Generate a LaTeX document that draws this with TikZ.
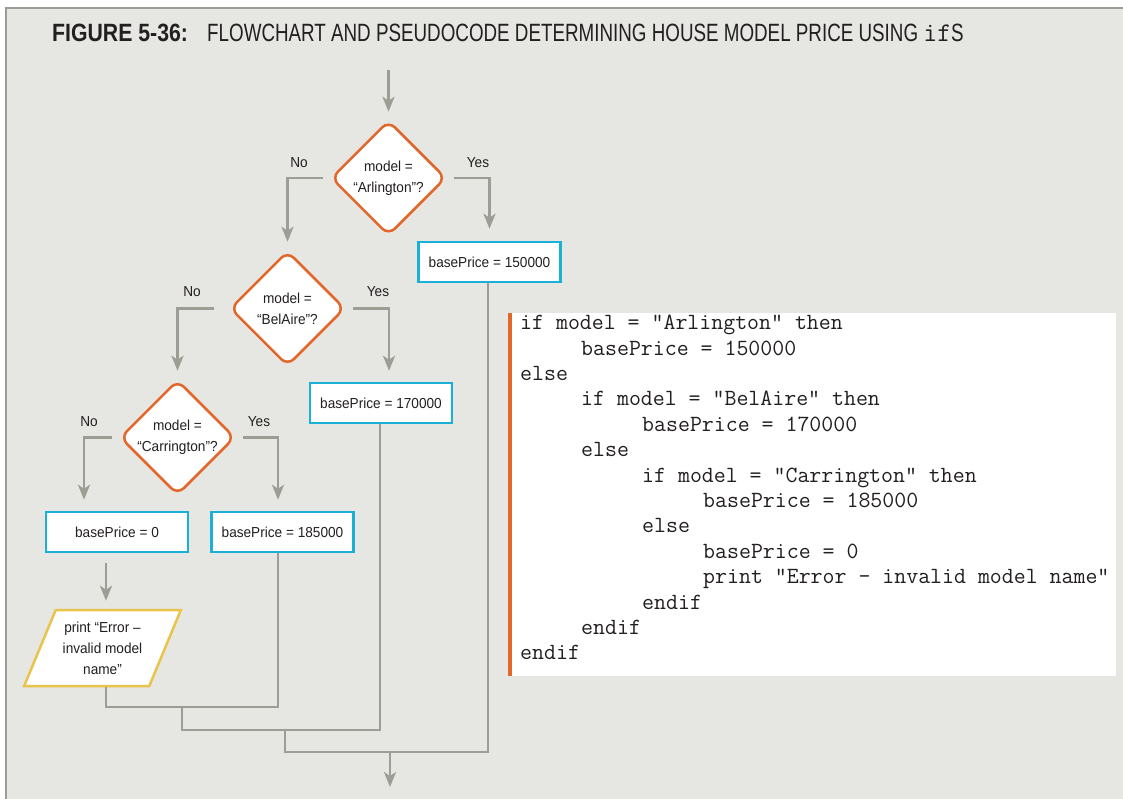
\documentclass[tikz,border=0pt]{standalone}
\usepackage{fontspec}
\setmainfont{Liberation Sans}
\newfontfamily\flowfont[FakeStretch=0.94]{Liberation Sans}
\newfontfamily\titleboldfont[FakeStretch=0.85]{Liberation Sans Bold}
\newfontfamily\titlefont[FakeStretch=0.752]{Liberation Sans}
\usetikzlibrary{shapes.geometric,arrows.meta}
\definecolor{bg}{HTML}{E6E6E3}
\definecolor{framec}{HTML}{9C9C94}
\definecolor{connc}{HTML}{9D9D96}
\definecolor{dorange}{HTML}{E2672A}
\definecolor{bcyan}{HTML}{1BB0D8}
\definecolor{pyellow}{HTML}{E8C44A}
\definecolor{ink}{HTML}{231F20}
\newcommand\flowtxt{\flowfont\fontsize{14.5pt}{21pt}\selectfont}
\newcommand\codetxt{\ttfamily\addfontfeatures{FakeBold=0.7}\fontsize{23.2pt}{25.4pt}\selectfont}
\begin{document}
\begin{tikzpicture}[x=1pt,y=-1pt,
  decision/.style={diamond, draw=dorange, fill=white, line width=2.5pt, rounded corners=9pt,
    minimum width=115pt, minimum height=115pt, inner sep=0pt},
  dtext/.style={font=\flowtxt, text=ink, align=center, inner sep=0pt},
  process/.style={rectangle, draw=bcyan, fill=white, line width=2.5pt,
    minimum width=142pt, minimum height=40pt, inner sep=0pt, font=\flowtxt, text=ink},
  iobox/.style={trapezium, trapezium left angle=63, trapezium right angle=117,
    trapezium stretches=true, draw=pyellow, fill=white, line width=2.5pt,
    minimum width=157pt, minimum height=76pt, inner sep=0pt, align=center,
    font=\flowtxt, text=ink},
  lbl/.style={font=\flowtxt, text=ink, inner sep=0pt},
  flow/.style={draw=connc, line width=2.5pt},
  arrow/.style={flow, -{Stealth[length=15pt,width=12pt,inset=4pt]}},
  codebox/.style={rectangle, fill=white, minimum width=608pt, minimum height=363pt,
    inner sep=0pt, anchor=north west},
  codetext/.style={anchor=north west, inner sep=0pt, align=left,
    font=\codetxt, text=ink}
]
\useasboundingbox (0,0) rectangle (1123,799);
\fill[white] (0,0) rectangle (1123,799);
\fill[bg] (6,7) rectangle (1123,799);
\draw[framec, line width=2pt] (6,799) -- (6,8) -- (1123,8);

% title
\node[anchor=base west, inner sep=0pt, text=ink, font=\titleboldfont\fontsize{25pt}{25pt}\selectfont] (t1) at (52,42) {FIGURE 5-36:};
\node[anchor=base west, inner sep=0pt, text=ink, font=\titlefont\fontsize{25pt}{25pt}\selectfont] (t2) at (207,42) {FLOWCHART AND PSEUDOCODE DETERMINING HOUSE MODEL PRICE USING {\ttfamily\addfontfeatures{FakeBold=0.5}\fontsize{27pt}{27pt}\selectfont if}S};

% flowchart nodes
\coordinate (start) at (388.5,70);
\node[decision, label={[dtext]center:{model =\\“Arlington”?}}] (d1) at (388.5,178) {};
\node[process] (b1) at (489.5,262) {basePrice = 150000};
\node[decision, label={[dtext]center:{model =\\“BelAire”?}}] (d2) at (287.5,308.5) {};
\node[process] (b2) at (381,403) {basePrice = 170000};
\node[decision, label={[dtext]center:{model =\\“Carrington”?}}] (d3) at (177.5,437.5) {};
\node[process] (b3) at (117,532) {basePrice = 0};
\node[process] (b4) at (282.5,532) {basePrice = 185000};
\node[iobox] (p1) at (102.5,648) {print “Error –\\invalid model\\name”};

% labels
\node[lbl] (no1) at (299,163) {No};
\node[lbl] (yes1) at (478,163) {Yes};
\node[lbl] (no2) at (192,292) {No};
\node[lbl] (yes2) at (378,292) {Yes};
\node[lbl] (no3) at (89,422) {No};
\node[lbl] (yes3) at (259,422) {Yes};

% connectors
\draw[arrow, shorten >=7.5pt] (start) -- (d1.north);
\draw[arrow, shorten <=7pt, shorten >=8pt] (d1.west) -| (d2.north);
\draw[arrow, shorten <=7pt, shorten >=12pt] (d1.east) -| (b1.north);
\draw[arrow, shorten <=15pt, shorten >=8pt] (d2.west) -| (d3.north);
\draw[arrow, shorten <=7pt, shorten >=11pt] (d2.east) -| ([xshift=8pt]b2.north);
\draw[arrow, shorten <=7pt, shorten >=11pt] (d3.west) -| ([xshift=-33pt]b3.north);
\draw[arrow, shorten <=7pt, shorten >=11pt] (d3.east) -| ([xshift=-4.5pt]b4.north);
\draw[arrow, shorten <=10pt, shorten >=8pt] ([xshift=-11pt]b3.south) -- ([xshift=3.5pt]p1.center |- p1.north);

\coordinate (j1) at (182,707);
\coordinate (j2) at (285,730);
\coordinate (j3) at (390,752);
\coordinate (fin) at (390,787);
\draw[flow] ([xshift=3.5pt]p1.center |- p1.south) |- (j1) -| ([xshift=-4.5pt]b4.south);
\draw[flow] (j1) |- (j2) -| ([xshift=-1pt]b2.south);
\draw[flow] (j2) |- (j3) -| ([xshift=-1.5pt]b1.south);
\draw[arrow] (j3) -- (fin);

% pseudocode
\node[codebox] (cb) at (508,313) {};
\fill[dorange] (cb.north west) rectangle ([xshift=4pt]cb.south west);
\node[codetext] (code) at (520,315) {if model = "Arlington" then\\
\hspace*{61pt}basePrice = 150000\\
else\\
\hspace*{61pt}if model = "BelAire" then\\
\hspace*{122pt}basePrice = 170000\\
\hspace*{61pt}else\\
\hspace*{122pt}if model = "Carrington" then\\
\hspace*{183pt}basePrice = 185000\\
\hspace*{122pt}else\\
\hspace*{183pt}basePrice = 0\\
\hspace*{183pt}print "Error – invalid model name"\\
\hspace*{122pt}endif\\
\hspace*{61pt}endif\\
endif};
\end{tikzpicture}
\end{document}
